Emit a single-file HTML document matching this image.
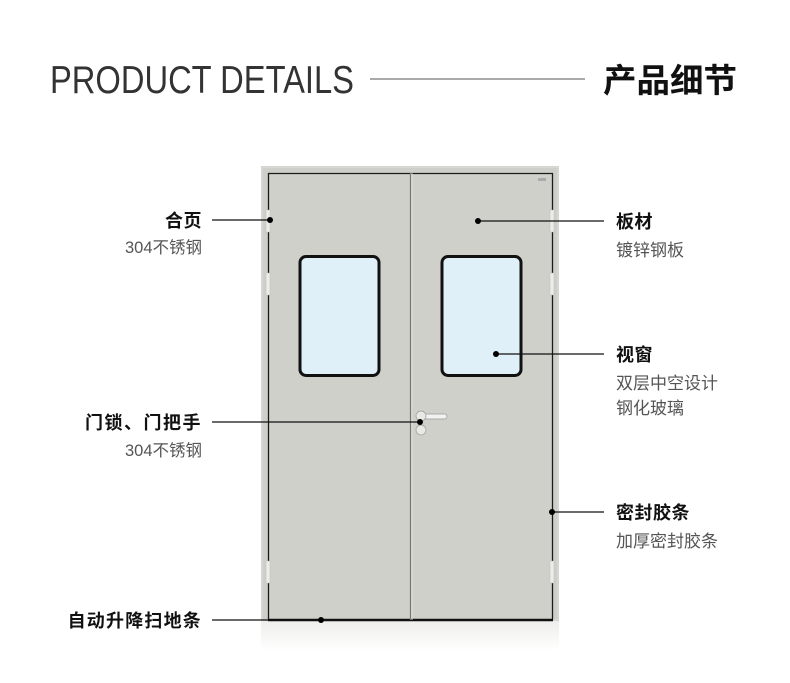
<!DOCTYPE html>
<html><head><meta charset="utf-8"><style>
html,body{margin:0;padding:0;background:#fff;}
svg{display:block}
text{font-family:"Liberation Sans","Noto Sans CJK SC",sans-serif;}
</style></head><body>
<svg width="790" height="683" viewBox="0 0 790 683" xmlns="http://www.w3.org/2000/svg">
<defs>
<linearGradient id="refl" x1="0" y1="0" x2="0" y2="1">
<stop offset="0" stop-color="#eeeeec"/><stop offset="1" stop-color="#ffffff"/>
</linearGradient>
</defs>
<text x="50" y="93" font-size="39" fill="#333" textLength="304" lengthAdjust="spacingAndGlyphs" style="font-weight:300">PRODUCT DETAILS</text>
<line x1="370" y1="79" x2="585" y2="79" stroke="#555" stroke-width="1"/>
<text x="603" y="92" font-size="33" font-weight="bold" fill="#111" textLength="134" lengthAdjust="spacingAndGlyphs">产品细节</text>

<rect x="261" y="621" width="298" height="30" fill="url(#refl)"/>
<rect x="261" y="166" width="298" height="455" fill="#cfcfca"/>
<rect x="262" y="167" width="296" height="453" fill="none" stroke="#dededa" stroke-width="1"/>
<rect x="268" y="173" width="285" height="447" fill="#d0d0cb"/>
<path d="M268.5 620 V173.5 H552.5 V620" fill="none" stroke="#1a1a1a" stroke-width="1.3"/>
<line x1="268" y1="620" x2="553" y2="620" stroke="#111" stroke-width="2.5"/>
<line x1="410.5" y1="173" x2="410.5" y2="620" stroke="#777" stroke-width="1.2"/>
<line x1="412" y1="173" x2="412" y2="620" stroke="#e6e6e2" stroke-width="0.8"/>
<g fill="#ecece8" stroke="#bdbdb8" stroke-width="0.5">
<rect x="266" y="210" width="4" height="22"/><rect x="266" y="273" width="4" height="22"/><rect x="266" y="561" width="4" height="22"/>
<rect x="550" y="210" width="4" height="22"/><rect x="550" y="273" width="4" height="22"/><rect x="550" y="561" width="4" height="22"/>
</g>
<rect x="538" y="178" width="8" height="3" fill="#aaa"/>
<rect x="300" y="256.5" width="79" height="119" rx="6" fill="#e0f0f8" stroke="#111" stroke-width="3"/>
<rect x="442" y="256.5" width="79" height="119" rx="6" fill="#e0f0f8" stroke="#111" stroke-width="3"/>
<rect x="417" y="414" width="30" height="5" rx="2.5" fill="#f2f2f0" stroke="#999" stroke-width="0.7"/>
<circle cx="421" cy="416" r="5" fill="#e8e8e4" stroke="#999" stroke-width="0.7"/>
<circle cx="421" cy="430" r="5" fill="#e8e8e4" stroke="#999" stroke-width="0.7"/>

<g stroke="#111" stroke-width="1.2">
<line x1="212" y1="220" x2="270" y2="220"/>
<line x1="212" y1="422" x2="420" y2="422"/>
<line x1="212" y1="620" x2="321" y2="620"/>
<line x1="478" y1="221" x2="604" y2="221"/>
<line x1="496" y1="354" x2="604" y2="354"/>
<line x1="552" y1="512" x2="604" y2="512"/>
</g>
<g fill="#000">
<circle cx="270" cy="220" r="3"/><circle cx="420" cy="422" r="3"/><circle cx="321" cy="620" r="3"/>
<circle cx="478" cy="221" r="3"/><circle cx="496" cy="354" r="3"/><circle cx="552" cy="512" r="3"/>
</g>

<g text-anchor="end">
<text x="202" y="227" font-size="18" font-weight="bold" fill="#111" letter-spacing="0.5">合页</text>
<text x="202" y="253" font-size="16.5" fill="#555">304不锈钢</text>
<text x="202" y="429" font-size="18" font-weight="bold" fill="#111" letter-spacing="1.5">门锁、门把手</text>
<text x="202" y="456" font-size="16.5" fill="#555">304不锈钢</text>
<text x="202" y="627" font-size="18" font-weight="bold" fill="#111" letter-spacing="1.2">自动升降扫地条</text>
</g>
<text x="616" y="228" font-size="18" font-weight="bold" fill="#111" letter-spacing="0.5">板材</text>
<text x="616" y="256" font-size="17" fill="#555">镀锌钢板</text>
<text x="616" y="361" font-size="18" font-weight="bold" fill="#111" letter-spacing="0.5">视窗</text>
<text x="616" y="389" font-size="17" fill="#555">双层中空设计</text>
<text x="616" y="414" font-size="17" fill="#555">钢化玻璃</text>
<text x="616" y="519" font-size="18" font-weight="bold" fill="#111" letter-spacing="0.5">密封胶条</text>
<text x="616" y="547" font-size="17" fill="#555">加厚密封胶条</text>
</svg>
</body></html>
